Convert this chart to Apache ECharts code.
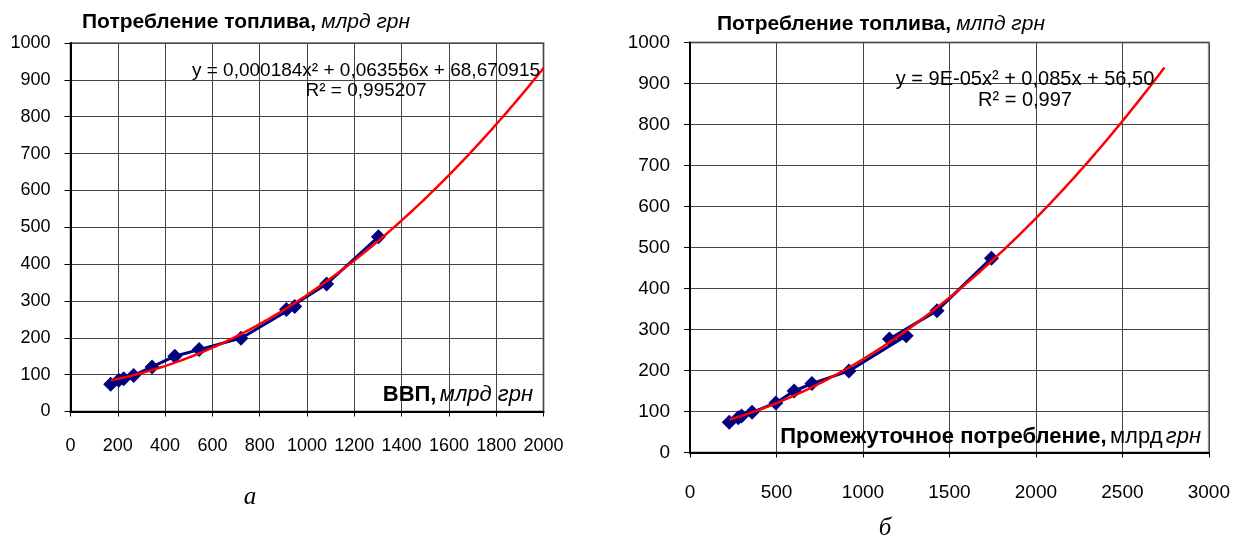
<!DOCTYPE html>
<html>
<head>
<meta charset="utf-8">
<script src="https://cdn.jsdelivr.net/npm/echarts@6/dist/echarts.min.js"></script>
<style>
  html, body { margin: 0; padding: 0; background: #fff; }
  #chart { width: 1233px; height: 542px; }
</style>
</head>
<body>
<div id="chart"></div>
<script>
// Ukraine, 2000–2011: fuel consumption vs GDP and vs intermediate consumption (bn UAH)
const years = [2000, 2001, 2002, 2003, 2004, 2005, 2006, 2007, 2008, 2009, 2010, 2011];
const gdp = [170, 204, 225, 267, 345, 441, 544, 721, 948, 913, 1083, 1302];
const intermediate = [227, 279, 298, 359, 496, 602, 705, 919, 1250, 1153, 1428, 1743];
const fuel = [74, 85, 89, 98, 121, 150, 168, 199, 285, 277, 346, 474];

// quadratic trend of panel (a), as printed on the chart: c0 + c1*x + c2*x^2
const trendA = [68.670915, 0.063556, 0.000184];
const trendAEnd = 2000;       // forecast forward to the axis end
const trendBForward = 1000;   // panel (б) trend extends 1000 units past the last point

// axis ranges / tick steps
const yRange = { min: 0, max: 1000, step: 100 };
const xRangeA = { min: 0, max: 2000, step: 200 };
const xRangeB = { min: 0, max: 3000, step: 500 };

// texts
const eqA = 'y = 0,000184x² + 0,063556x + 68,670915';
const r2A = 'R² = 0,995207';
const eqB = 'y = 9E-05x² + 0,085x + 56,50';
const r2B = 'R² = 0,997';

const FONT = '"Liberation Sans", Arial, sans-serif';

// least-squares quadratic through (xs, ys); x scaled for numeric stability
function polyfit2(xs, ys) {
  const s = 1000;
  const S = [0, 0, 0, 0, 0], T = [0, 0, 0];
  xs.forEach((x0, i) => {
    const x = x0 / s;
    let p = 1;
    for (let k = 0; k <= 4; k++) { S[k] += p; if (k <= 2) T[k] += p * ys[i]; p *= x; }
  });
  const A = [[S[0], S[1], S[2], T[0]], [S[1], S[2], S[3], T[1]], [S[2], S[3], S[4], T[2]]];
  for (let c = 0; c < 3; c++) {
    for (let r = c + 1; r < 3; r++) {
      const f = A[r][c] / A[c][c];
      for (let k = c; k < 4; k++) A[r][k] -= f * A[c][k];
    }
  }
  const z = [0, 0, 0];
  for (let r = 2; r >= 0; r--) {
    let v = A[r][3];
    for (let k = r + 1; k < 3; k++) v -= A[r][k] * z[k];
    z[r] = v / A[r][r];
  }
  return [z[0], z[1] / s, z[2] / (s * s)];
}

function curve(coef, x0, x1, n) {
  const pts = [];
  for (let i = 0; i <= n; i++) {
    const x = x0 + (x1 - x0) * i / n;
    pts.push([x, coef[0] + coef[1] * x + coef[2] * x * x]);
  }
  return pts;
}

const trendB = polyfit2(intermediate, fuel);
const xMinA = Math.min(...gdp);
const xMinB = Math.min(...intermediate);
const xMaxB = Math.max(...intermediate) + trendBForward;

function pairs(xs, ys) { return xs.map((x, i) => [x, ys[i]]); }
const plain = v => String(v);

function xAxisFor(gridIndex, r, fontSize, margin) {
  return {
    type: 'value', gridIndex, min: r.min, max: r.max, interval: r.step,
    axisLine: { show: true, onZero: false, lineStyle: { color: '#000', width: 2 } },
    axisTick: { show: true, length: 5, lineStyle: { color: '#000', width: 1 } },
    axisLabel: { color: '#000', fontSize, fontFamily: FONT, margin, formatter: plain },
    splitLine: { show: true, lineStyle: { color: '#444', width: 1 } }
  };
}
function yAxisFor(gridIndex, fontSize) {
  return {
    type: 'value', gridIndex, min: yRange.min, max: yRange.max, interval: yRange.step,
    axisLine: { show: true, onZero: false, lineStyle: { color: '#000', width: 2 } },
    axisTick: { show: true, length: 6, lineStyle: { color: '#000', width: 1 } },
    axisLabel: { color: '#000', fontSize, fontFamily: FONT, margin: 20, formatter: plain },
    splitLine: { show: true, lineStyle: { color: '#444', width: 1 } }
  };
}

const dataStyle = {
  type: 'line', symbol: 'diamond', symbolSize: 15, showAllSymbol: true,
  itemStyle: { color: '#000080' },
  lineStyle: { color: '#000080', width: 3 },
  z: 3, animation: false
};
const trendStyle = {
  type: 'line', showSymbol: false, smooth: false,
  lineStyle: { color: '#ff0000', width: 2.5 },
  z: 4, animation: false
};

const titleRich = {
  b: { fontSize: 21, fontWeight: 'bold', fontFamily: FONT, color: '#000' },
  i: { fontSize: 21, fontWeight: 'normal', fontStyle: 'italic', fontFamily: FONT, color: '#000' }
};

const option = {
  backgroundColor: '#fff',
  animation: false,
  title: [
    { left: 77, top: 7, text: '{b|Потребление топлива,} {i|млрд грн}', textStyle: { rich: titleRich } },
    { left: 712, top: 9, text: '{b|Потребление топлива,} {i|млпд грн}', textStyle: { rich: titleRich } }
  ],
  grid: [
    { left: 70.5, right: 689.5, top: 43, bottom: 130.5, show: true, borderColor: '#8c8c8c', borderWidth: 2 },
    { left: 690, right: 23, top: 42.5, bottom: 89.5, show: true, borderColor: '#8c8c8c', borderWidth: 2 }
  ],
  xAxis: [xAxisFor(0, xRangeA, 18, 26), xAxisFor(1, xRangeB, 19, 31)],
  yAxis: [yAxisFor(0, 18), yAxisFor(1, 19)],
  series: [
    Object.assign({ name: 'ВВП', xAxisIndex: 0, yAxisIndex: 0, data: pairs(gdp, fuel) }, dataStyle),
    Object.assign({ name: 'Тренд ВВП', xAxisIndex: 0, yAxisIndex: 0, data: curve(trendA, xMinA, trendAEnd, 200) }, trendStyle),
    Object.assign({ name: 'Промежуточное потребление', xAxisIndex: 1, yAxisIndex: 1, data: pairs(intermediate, fuel) }, dataStyle),
    Object.assign({ name: 'Тренд ПП', xAxisIndex: 1, yAxisIndex: 1, data: curve(trendB, xMinB, xMaxB, 200) }, trendStyle)
  ],
  graphic: [
    { type: 'text', x: 366, y: 61, z: 10, style: {
        text: eqA + '\n' + r2A, align: 'center', verticalAlign: 'top', lineHeight: 20,
        fontSize: 19, fontFamily: FONT, fill: '#000' } },
    { type: 'text', x: 1025, y: 69, z: 10, style: {
        text: eqB + '\n' + r2B, align: 'center', verticalAlign: 'top', lineHeight: 21,
        fontSize: 20, fontFamily: FONT, fill: '#000' } },
    { type: 'text', x: 533, y: 395, z: 10, style: {
        text: '{b|ВВП,} {i|млрд грн}', align: 'right', verticalAlign: 'middle',
        rich: {
          b: { fontSize: 22, fontWeight: 'bold', fontFamily: FONT, fill: '#000' },
          i: { fontSize: 22, fontStyle: 'italic', fontFamily: FONT, fill: '#000' }
        } } },
    { type: 'text', x: 1201, y: 437, z: 10, style: {
        text: '{b|Промежуточное потребление,} {r|млрд} {i|грн}', align: 'right', verticalAlign: 'middle',
        rich: {
          b: { fontSize: 22, fontWeight: 'bold', fontFamily: FONT, fill: '#000' },
          r: { fontSize: 22, fontFamily: FONT, fill: '#000' },
          i: { fontSize: 22, fontStyle: 'italic', fontFamily: FONT, fill: '#000' }
        } } },
    { type: 'text', x: 250, y: 497, style: {
        text: 'а', align: 'center', verticalAlign: 'middle',
        fontSize: 25, fontStyle: 'italic', fontFamily: '"Liberation Serif", "Times New Roman", serif', fill: '#000' } },
    { type: 'text', x: 885, y: 528, style: {
        text: 'б', align: 'center', verticalAlign: 'middle',
        fontSize: 25, fontStyle: 'italic', fontFamily: '"Liberation Serif", "Times New Roman", serif', fill: '#000' } }
  ]
};

const chart = echarts.init(document.getElementById('chart'), null, { renderer: 'canvas' });
chart.setOption(option);
</script>
</body>
</html>
